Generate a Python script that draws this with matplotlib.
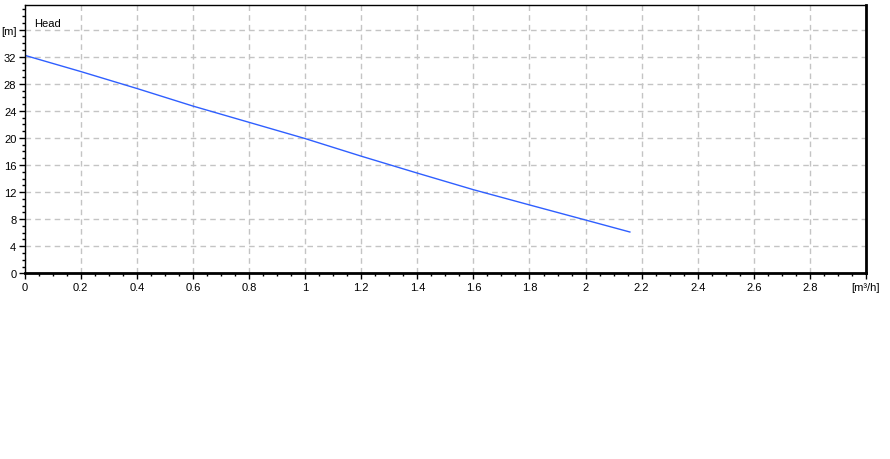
import matplotlib
matplotlib.use("Agg")
import matplotlib.pyplot as plt
from matplotlib.ticker import MultipleLocator, FixedLocator

plt.rcParams['font.family'] = ['Liberation Sans', 'DejaVu Sans']

# Data
flow = [0.0, 0.2, 0.4, 0.6, 0.8, 1.0, 1.2, 1.4, 1.6, 1.8, 2.0, 2.158]
head = [32.2, 29.8, 27.3, 24.7, 22.3, 19.9, 17.3, 14.8, 12.35, 10.1, 7.87, 6.1]

x_ticks = [0, 0.2, 0.4, 0.6, 0.8, 1, 1.2, 1.4, 1.6, 1.8, 2, 2.2, 2.4, 2.6, 2.8, 3.0]
x_labels = ["0", "0.2", "0.4", "0.6", "0.8", "1", "1.2", "1.4", "1.6", "1.8", "2",
            "2.2", "2.4", "2.6", "2.8", "[m³/h]"]
y_ticks = [0, 4, 8, 12, 16, 20, 24, 28, 32, 36]
y_labels = ["0", "4", "8", "12", "16", "20", "24", "28", "32", "[m]"]

fig = plt.figure(figsize=(8.9, 4.6), dpi=100)
ax = fig.add_axes([24.7 / 890, 1 - 274.3 / 460, (866 - 24.7) / 890, (274.3 - 6) / 460])

ax.plot(flow, head, color="#2f5fff", linewidth=1.0)

ax.set_xlim(0, 3.0)
ax.set_ylim(0, 39.63)
ax.xaxis.set_major_locator(FixedLocator(x_ticks))
ax.set_xticklabels(x_labels)
ax.xaxis.set_minor_locator(MultipleLocator(0.05))
ax.yaxis.set_major_locator(FixedLocator(y_ticks))
ax.set_yticklabels(y_labels)
ax.yaxis.set_minor_locator(MultipleLocator(1))

ax.grid(True, which="major", color="#c4c4c4", linestyle=(0, (4, 3)), linewidth=1.0)
ax.set_axisbelow(True)

ax.tick_params(which="major", direction="out", length=4, width=1, labelsize=8, pad=2, colors="black")
ax.tick_params(which="minor", direction="out", length=2, width=1)

for s in ["left", "top"]:
    ax.spines[s].set_linewidth(1.0)
for s in ["right", "bottom"]:
    ax.spines[s].set_linewidth(2.0)
for s in ax.spines.values():
    s.set_color("black")

ax.text(0.011, 0.95, "Head", transform=ax.transAxes, fontsize=8, va="top", ha="left")

fig.savefig("out.png", dpi=100, facecolor="white")
